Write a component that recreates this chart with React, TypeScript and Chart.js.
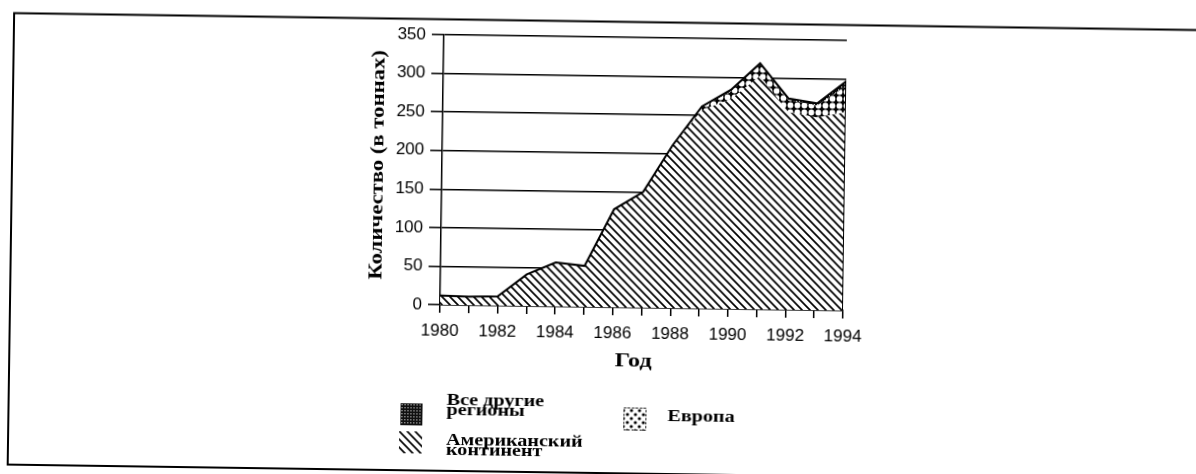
import React, { useEffect, useRef } from 'react';
import { Chart, registerables } from 'chart.js';

Chart.register(...registerables);

// ---- data ----
const years = [1980, 1981, 1982, 1983, 1984, 1985, 1986, 1987, 1988, 1989, 1990, 1991, 1992, 1993, 1994];
const americas = [12, 11, 12, 41, 57, 53, 127, 150, 210, 257, 272, 302, 256, 250, 257];
const europe = [0, 0, 0, 0, 0, 0, 0, 0, 1, 4, 10, 15, 16, 15, 34];
const others = [0, 0, 0, 0, 0, 0, 0, 0, 0, 1, 2, 2, 2, 3, 6];
const xLabelYears = [1980, 1982, 1984, 1986, 1988, 1990, 1992, 1994];
const yMin = 0;
const yMax = 350;
const yStep = 50;
const yTitle = 'Количество (в тоннах)';
const xTitle = 'Год';
const legendOthers = ['Все другие', 'регионы'];
const legendAmericas = ['Американский', 'континент'];
const legendEurope = ['Европа'];

function makeHatch(): CanvasPattern {
  const s = 8;
  const c = document.createElement('canvas');
  c.width = s; c.height = s;
  const g = c.getContext('2d')!;
  g.fillStyle = '#fff';
  g.fillRect(0, 0, s, s);
  g.strokeStyle = '#000';
  g.lineWidth = 1.7;
  g.beginPath();
  g.moveTo(-1, -1); g.lineTo(s + 1, s + 1);
  g.moveTo(-1, s - 1); g.lineTo(1, s + 1);
  g.moveTo(s - 1, -1); g.lineTo(s + 1, 1);
  g.stroke();
  return g.createPattern(c, 'repeat')!;
}

function makeRings(): CanvasPattern {
  const s = 7;
  const c = document.createElement('canvas');
  c.width = s; c.height = s;
  const g = c.getContext('2d')!;
  g.fillStyle = '#000';
  g.fillRect(0, 0, s, s);
  g.fillStyle = '#fff';
  g.beginPath();
  g.arc(s / 2, s / 2, 2.9, 0, Math.PI * 2);
  g.fill();
  return g.createPattern(c, 'repeat')!;
}

function makeDense(): CanvasPattern {
  const s = 3;
  const c = document.createElement('canvas');
  c.width = s; c.height = s;
  const g = c.getContext('2d')!;
  g.fillStyle = '#111';
  g.fillRect(0, 0, s, s);
  g.fillStyle = '#fff';
  g.fillRect(1, 1, 1, 1);
  return g.createPattern(c, 'repeat')!;
}

function makeDots(): CanvasPattern {
  const s = 8;
  const c = document.createElement('canvas');
  c.width = s; c.height = s;
  const g = c.getContext('2d')!;
  g.fillStyle = '#fff';
  g.fillRect(0, 0, s, s);
  g.fillStyle = '#000';
  g.beginPath();
  g.arc(2, 2, 1.6, 0, Math.PI * 2);
  g.arc(6, 6, 1.6, 0, Math.PI * 2);
  g.fill();
  return g.createPattern(c, 'repeat')!;
}

function stretchedText(
  ctx: CanvasRenderingContext2D,
  text: string,
  x: number,
  y: number,
  sx: number,
  rot: number,
  align: CanvasTextAlign,
  baseline: CanvasTextBaseline,
) {
  ctx.save();
  ctx.translate(x, y);
  ctx.rotate(rot);
  ctx.scale(sx, 1);
  ctx.textAlign = align;
  ctx.textBaseline = baseline;
  ctx.fillText(text, 0, 0);
  ctx.restore();
}

export default function App() {
  const ref = useRef<HTMLCanvasElement | null>(null);

  useEffect(() => {
    const canvas = ref.current;
    if (!canvas) return;
    const hatch = makeHatch();
    const rings = makeRings();
    const dense = makeDense();
    const dots = makeDots();

    const last = years.length - 1;
    const outline = years.map((x, i) => ({ x, y: americas[i] + europe[i] + others[i] }));
    outline.push({ x: years[last], y: 0 });

    const serif = '"Liberation Serif", "Times New Roman", serif';

    const extrasPlugin = {
      id: 'frameTitlesLegend',
      afterDraw(chart: any) {
        const ctx = chart.ctx as CanvasRenderingContext2D;
        const area = chart.chartArea;
        ctx.save();
        // scanned frame
        ctx.strokeStyle = '#000';
        ctx.lineWidth = 2;
        ctx.beginPath();
        ctx.moveTo(1240, 41.5);
        ctx.lineTo(31, 41.5);
        ctx.lineTo(31, 493);
        ctx.lineTo(1240, 493);
        ctx.stroke();

        // axis titles
        ctx.fillStyle = '#000';
        ctx.font = `bold 18px ${serif}`;
        stretchedText(ctx, yTitle, 397, (area.top + area.bottom) / 2 - 4, 1.26, -Math.PI / 2, 'center', 'middle');
        stretchedText(ctx, xTitle, 655, 381.5, 1.35, 0, 'center', 'middle');

        // legend swatches
        ctx.fillStyle = dense;
        ctx.fillRect(423, 426, 22, 22);
        ctx.fillStyle = hatch;
        ctx.fillRect(422, 454, 23, 22);
        ctx.fillStyle = dots;
        ctx.fillRect(646, 427, 23, 23);
        ctx.strokeStyle = '#000';
        ctx.lineWidth = 1;
        ctx.setLineDash([2, 2]);
        ctx.strokeRect(646.5, 427.5, 22, 22);
        ctx.setLineDash([]);

        // legend text
        ctx.fillStyle = '#000';
        ctx.font = `bold 16.5px ${serif}`;
        stretchedText(ctx, legendOthers[0], 469, 426.5, 1.22, 0, 'left', 'alphabetic');
        stretchedText(ctx, legendOthers[1], 469, 436.5, 1.22, 0, 'left', 'alphabetic');
        stretchedText(ctx, legendAmericas[0], 469, 467, 1.22, 0, 'left', 'alphabetic');
        stretchedText(ctx, legendAmericas[1], 469, 476.5, 1.22, 0, 'left', 'alphabetic');
        stretchedText(ctx, legendEurope[0], 690, 440, 1.22, 0, 'left', 'alphabetic');
        ctx.restore();
      },
    };

    const tickFont = { family: '"Liberation Sans", Arial, sans-serif', size: 17 };

    const chart = new Chart(canvas, {
      type: 'line',
      data: {
        datasets: [
          {
            label: 'outline',
            data: outline,
            stack: 'outline',
            borderColor: '#000',
            borderWidth: 2,
            fill: false,
            pointRadius: 0,
          },
          {
            label: legendAmericas.join(' '),
            data: years.map((x, i) => ({ x, y: americas[i] })),
            backgroundColor: hatch,
            borderColor: 'rgba(0,0,0,0)',
            borderWidth: 0,
            fill: 'origin',
            pointRadius: 0,
          },
          {
            label: legendEurope.join(' '),
            data: years.map((x, i) => ({ x, y: europe[i] })),
            backgroundColor: rings,
            borderColor: 'rgba(0,0,0,0)',
            borderWidth: 0,
            fill: '-1',
            pointRadius: 0,
          },
          {
            label: legendOthers.join(' '),
            data: years.map((x, i) => ({ x, y: others[i] })),
            backgroundColor: dense,
            borderColor: 'rgba(0,0,0,0)',
            borderWidth: 0,
            fill: '-1',
            pointRadius: 0,
          },
        ],
      },
      options: {
        animation: false,
        responsive: false,
        devicePixelRatio: 1,
        layout: { padding: { left: 0, top: 57, right: 372, bottom: 0 } },
        elements: { line: { tension: 0 }, point: { radius: 0 } },
        plugins: { legend: { display: false }, tooltip: { enabled: false } },
        scales: {
          x: {
            type: 'linear',
            min: years[0],
            max: years[last],
            ticks: {
              stepSize: 1,
              autoSkip: false,
              maxRotation: 0,
              padding: 8,
              color: '#000',
              font: tickFont,
              callback: (v: any) => (xLabelYears.includes(Number(v)) ? String(v) : ''),
            },
            grid: { drawOnChartArea: false, drawTicks: true, tickLength: 8, color: '#000', lineWidth: 1.5 },
            border: { display: true, color: '#000', width: 1.5 },
            title: { display: false, text: xTitle },
            afterFit: (s: any) => { s.height = 187; },
          },
          y: {
            type: 'linear',
            stacked: true,
            min: yMin,
            max: yMax,
            ticks: { stepSize: yStep, padding: 6, color: '#000', font: tickFont },
            grid: { color: '#000', lineWidth: 1.5, tickLength: 12 },
            border: { display: true, color: '#000', width: 1.5 },
            title: { display: false, text: yTitle },
            afterFit: (s: any) => { s.width = 461; },
          },
        },
      },
      plugins: [extrasPlugin],
    } as any);

    return () => chart.destroy();
  }, []);

  return (
    <div style={{ position: 'fixed', left: 0, top: 0, width: 1196, height: 474, overflow: 'hidden', background: '#fff' }}>
      <canvas
        ref={ref}
        width={1236}
        height={514}
        style={{
          position: 'absolute',
          left: -20,
          top: -20,
          width: 1236,
          height: 514,
          transform: 'rotate(0.82deg)',
          transformOrigin: '618px 257px',
        }}
      />
    </div>
  );
}
